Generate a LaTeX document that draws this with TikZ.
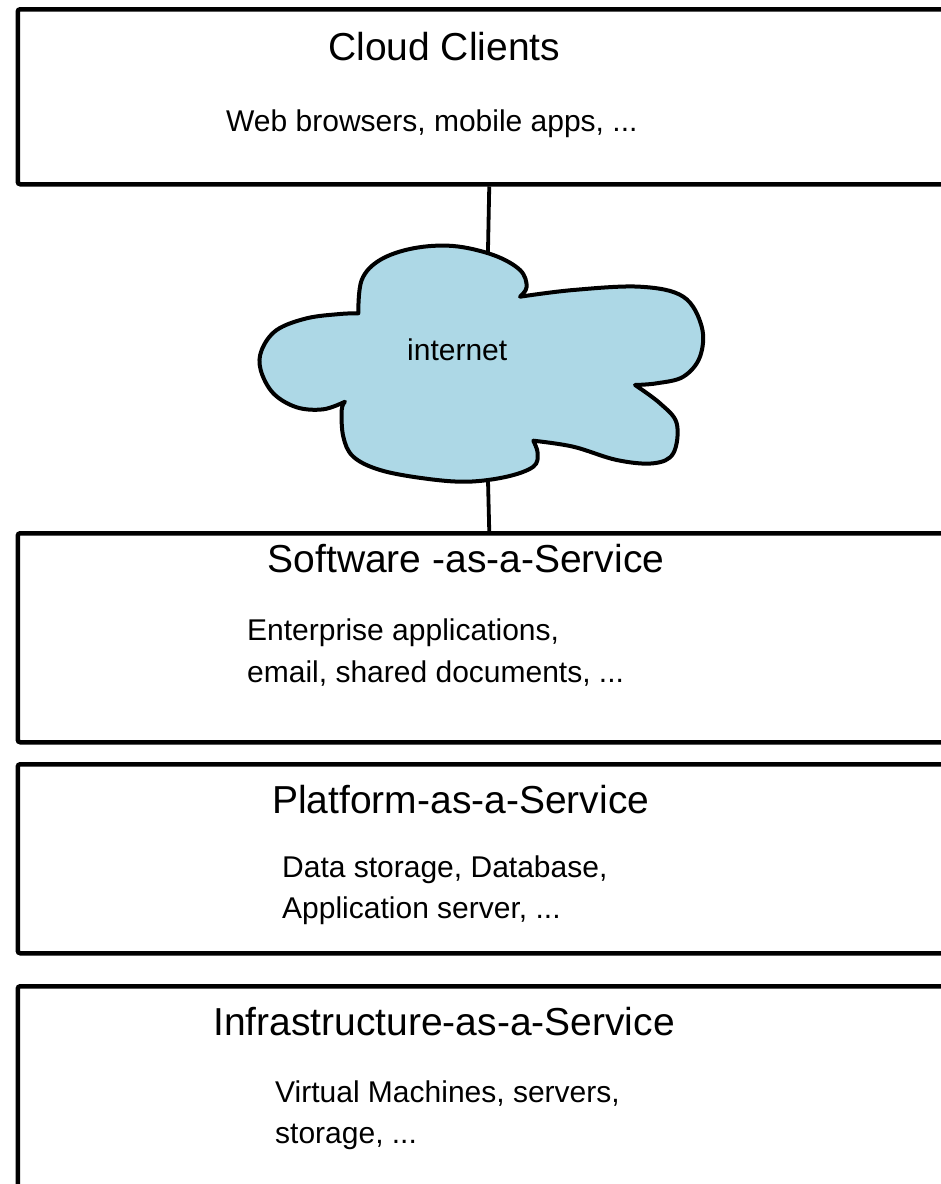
\documentclass[tikz,border=0pt]{standalone}
\usepackage{fontspec}
\setmainfont{Liberation Sans}
\definecolor{cloudblue}{RGB}{173,216,230}
\tikzset{
  layerbox/.style={draw=black, line width=4.5pt, rounded corners=2.5pt, fill=white,
    inner sep=0pt, anchor=north west, minimum width=943pt},
  ttl/.style={inner sep=0pt, anchor=base west, font=\fontsize{39}{45}\selectfont},
  txt/.style={inner sep=0pt, anchor=base west, font=\fontsize{30}{36}\selectfont},
  link/.style={draw=black, line width=3.8pt},
  cloudline/.style={draw=black, line width=4pt, fill=cloudblue, line join=round}
}
\begin{document}
\begin{tikzpicture}[x=1pt, y=-1pt]
\useasboundingbox (0,0) rectangle (941,1184);
\clip (0,0) rectangle (941,1184);
\fill[white] (0,0) rectangle (941,1184);

% layer boxes
\node[layerbox, minimum height=175pt] (b1) at (15.5,7) {};
\node[layerbox, minimum height=209pt] (b2) at (15.5,531) {};
\node[layerbox, minimum height=189pt] (b3) at (15.5,762) {};
\node[layerbox, minimum height=230pt] (b4) at (15.5,984) {};

% connectors to the cloud
\coordinate (ctop) at (487,300);
\coordinate (cbot) at (487,440);
\draw[link] (b1.south) -- (ctop);
\draw[link] (cbot) -- (b2.north);

% cloud
\path[cloudline]
  plot[smooth, tension=0.6] coordinates {(358.3,313.3) (361.7,280) (380,260) (413.3,248.3) (453.3,246) (493.3,255) (520,270) (526.7,286.7) (520,296.7)}
  -- plot[smooth, tension=0.6] coordinates {(520,296.7) (573.3,290) (640,286.7) (683.3,296.7) (701.7,326.7) (700,356.7) (683.3,376.7) (656.7,383.3) (635,385)}
  -- plot[smooth, tension=0.6] coordinates {(635,385) (660,403.3) (676.7,423.3) (673.3,453.3) (653.3,463.3) (616.7,460) (573.3,446.7) (533.3,440.7)}
  -- plot[smooth, tension=0.6] coordinates {(533.3,440.7) (537.7,453.3) (533.3,466.7) (506.7,476.7) (466.7,481.7) (423.3,478.3) (380,470) (353.3,456.7) (343.3,436.7) (341.7,410) (345,401.7)}
  -- plot[smooth, tension=0.6] coordinates {(345,401.7) (323.3,409.3) (296.7,407.3) (273.3,393.3) (260.7,370) (261.7,350) (276.7,330) (306.7,318.3) (340,314) (358.3,313.3)}
  -- cycle;
\node[txt] (inet) at (407,360) {internet};

% texts
\node[ttl] (t1) at (328,60.7) {Cloud Clients};
\node[txt] (d1) at (226,131.5) {Web browsers, mobile apps, ...};

\node[ttl] (t2) at (267.5,572) {Software -as-a-Service};
\node[txt] (d2a) at (247,640) {Enterprise applications,};
\node[txt] (d2b) at (247,682) {email, shared documents, ...};

\node[ttl] (t3) at (272,813) {Platform-as-a-Service};
\node[txt] (d3a) at (282,877) {Data storage, Database,};
\node[txt] (d3b) at (282,918) {Application server, ...};

\node[ttl] (t4) at (213,1035) {Infrastructure-as-a-Service};
\node[txt] (d4a) at (275,1102) {Virtual Machines, servers,};
\node[txt] (d4b) at (275,1143) {storage, ...};
\end{tikzpicture}
\end{document}
